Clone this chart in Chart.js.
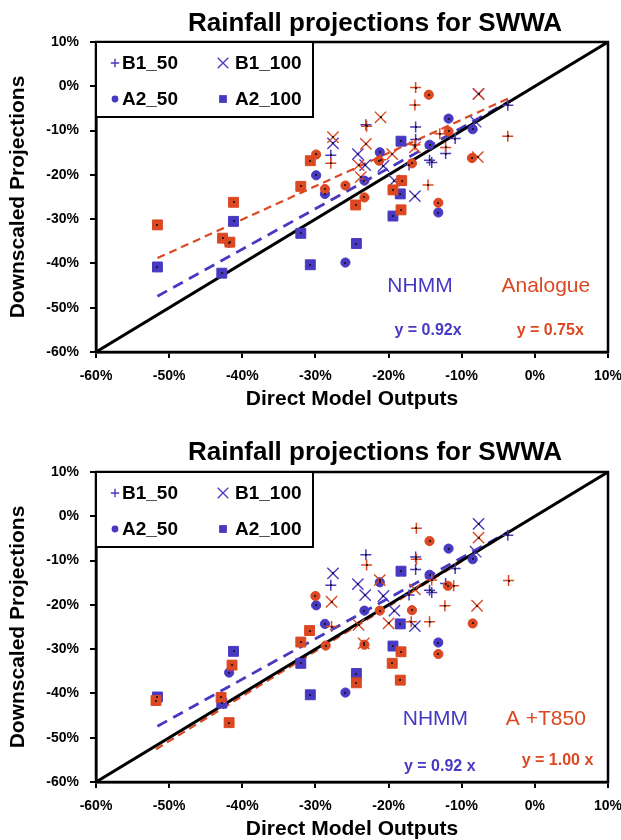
<!DOCTYPE html>
<html><head><meta charset="utf-8">
<script src="https://cdn.jsdelivr.net/npm/chart.js@4/dist/chart.umd.min.js"></script>
<style>
html,body{margin:0;padding:0;background:#fff;overflow:hidden;width:621px;height:840px}
.wrap{position:absolute;left:0;width:621px;height:430px}
canvas{display:block}
</style></head><body>
<div class="wrap" style="top:0"><canvas id="c1" width="621" height="430"></canvas></div>
<div class="wrap" style="top:430px"><canvas id="c2" width="621" height="430"></canvas></div>
<script>
// ---------- text / ticks ----------
const tickValues = [-60, -50, -40, -30, -20, -10, 0, 10];
const seriesLabels = ['B1_50', 'B1_100', 'A2_50', 'A2_100'];
const panelTitle = 'Rainfall projections for SWWA';
const xTitle = 'Direct Model Outputs';
const yTitle = 'Downscaled Projections';
const methodTop = ['NHMM', 'Analogue'];
const methodBottom = ['NHMM', 'A +T850'];
const eqTop = ['y = 0.92x', 'y = 0.75x'];
const eqBottom = ['y = 0.92 x', 'y = 1.00 x'];

// ---------- NHMM (same in both panels) [direct, downscaled] ----------
const nhmm_B1_50 = [[-27.9,-15.6],[-23.1,-8.7],[-16.3,-9.2],[-16.3,-12.0],[-14.4,-16.7],[-14.1,-17.2],[-12.2,-15.2],[-10.9,-11.8],[-3.7,-4.3],[-17.2,-17.8]];
const nhmm_B1_100 = [[-27.6,-12.9],[-24.2,-15.3],[-23.2,-17.8],[-20.7,-18.0],[-19.2,-21.3],[-16.4,-24.8],[-8.1,-8.0],[-7.7,-1.7]];
const nhmm_A2_50 = [[-29.9,-20.1],[-28.7,-24.3],[-25.9,-39.8],[-23.3,-21.3],[-21.2,-14.9],[-14.4,-13.2],[-13.2,-28.5],[-11.8,-7.3],[-8.5,-9.7],[-41.8,-35.3]];
const nhmm_A2_100 = [[-51.6,-40.8],[-42.8,-42.2],[-41.2,-30.5],[-32.0,-33.2],[-30.7,-40.3],[-24.4,-35.5],[-19.4,-29.3],[-18.4,-24.3],[-18.3,-12.4]];

// ---------- Analogue (top panel) ----------
const ana_B1_50 = [[-16.3,-0.3],[-16.4,-4.2],[-23.0,-9.0],[-27.9,-17.4],[-16.4,-13.2],[-14.6,-22.3],[-13.0,-10.7],[-12.2,-13.8],[-3.7,-11.3],[-21.1,-16.6]];
const ana_B1_100 = [[-27.6,-11.5],[-21.1,-7.0],[-23.1,-13.0],[-24.1,-17.8],[-23.8,-20.5],[-19.5,-15.3],[-16.4,-13.8],[-7.7,-1.7],[-7.8,-16.0]];
const ana_A2_50 = [[-14.5,-1.9],[-29.9,-15.4],[-25.9,-22.4],[-23.3,-25.1],[-28.7,-23.2],[-21.3,-16.8],[-16.8,-17.4],[-13.2,-26.3],[-11.8,-10.2],[-8.6,-16.2]];
const ana_A2_100 = [[-51.6,-31.3],[-41.2,-26.2],[-42.7,-34.3],[-41.7,-35.2],[-32.0,-22.6],[-30.7,-16.8],[-24.5,-26.8],[-19.4,-23.4],[-18.3,-27.9],[-18.2,-21.3]];

// ---------- A +T850 (bottom panel) ----------
const t850_B1_50 = [[-16.2,-2.7],[-23.0,-11.0],[-16.2,-9.7],[-11.1,-15.7],[-12.3,-20.2],[-14.4,-23.8],[-16.9,-23.8],[-3.6,-14.5],[-14.1,-14.4],[-27.8,-24.9]];
const t850_B1_100 = [[-27.8,-19.3],[-21.2,-14.4],[-7.9,-20.2],[-20.0,-24.2],[-24.1,-24.5],[-23.4,-28.7],[-7.7,-4.8],[-16.4,-16.5]];
const t850_A2_50 = [[-30.0,-18.0],[-28.6,-29.2],[-14.4,-5.6],[-11.9,-15.7],[-8.5,-24.2],[-16.8,-21.2],[-13.2,-31.1],[-23.3,-29.0],[-21.2,-21.3]];
const t850_A2_100 = [[-51.8,-41.6],[-42.9,-40.9],[-41.8,-46.6],[-41.4,-33.6],[-32.0,-28.4],[-30.8,-25.8],[-24.4,-37.6],[-19.5,-33.2],[-18.3,-30.6],[-18.4,-37.0]];

// ---------- lines ----------
const oneToOne = [[-60,-60],[10,10]];
const nhmmFit = [[-51.6,-47.4],[-3.7,-3.6]];
const anaFit = [[-51.6,-38.8],[-3.7,-2.8]];
const t850Fit = [[-51.8,-52.6],[-5.5,-5.6]];

// ---------- styles ----------
const BLUE = '#4739c2';
const RED = '#dc4822';
const FONT = '"Liberation Sans", Arial, sans-serif';
const markerStyles = [
  {style:'cross', r:5.5, bw:1.5},
  {style:'crossRot', r:8, bw:1.4},
  {style:'circle', r:4.6, bw:1},
  {style:'rect', r:7, bw:1}
];
const legendStyles = [
  {style:'cross', r:4.2, bw:1.4},
  {style:'crossRot', r:7.5, bw:1.3},
  {style:'circle', r:3.4, bw:1},
  {style:'rect', r:5.5, bw:1}
];

const pts = a => a.map(([x, y]) => ({x, y}));

function scatterSet(label, data, color, idx) {
  const m = markerStyles[idx];
  return {label, data: pts(data), showLine:false, pointStyle:m.style, pointRadius:m.r, pointHoverRadius:m.r,
    pointBorderWidth:m.bw, backgroundColor:color, borderColor:color, centerDot:true};
}
function lineSet(label, data, color, width, dash) {
  return {label, data: pts(data), showLine:true, pointRadius:0, pointHoverRadius:0, borderColor:color,
    backgroundColor:color, borderWidth:width, borderDash:dash, fill:false};
}

function drawMarker(ctx, style, x, y, r, bw, color) {
  ctx.save();
  ctx.fillStyle = color; ctx.strokeStyle = color; ctx.lineWidth = bw;
  ctx.beginPath();
  if (style === 'cross') { ctx.moveTo(x - r, y); ctx.lineTo(x + r, y); ctx.moveTo(x, y - r); ctx.lineTo(x, y + r); ctx.stroke(); }
  else if (style === 'crossRot') { const d = r * Math.SQRT1_2; ctx.moveTo(x - d, y - d); ctx.lineTo(x + d, y + d); ctx.moveTo(x - d, y + d); ctx.lineTo(x + d, y - d); ctx.stroke(); }
  else if (style === 'circle') { ctx.arc(x, y, r, 0, Math.PI * 2); ctx.fill(); }
  else { const s = r * Math.SQRT1_2; ctx.rect(x - s, y - s, 2 * s, 2 * s); ctx.fill(); }
  ctx.restore();
}

const decor = {
  id: 'decor',
  afterDatasetsDraw(chart) {
    const ctx = chart.ctx;
    chart.data.datasets.forEach((ds, i) => {
      if (!ds.centerDot) return;
      const meta = chart.getDatasetMeta(i);
      ctx.save();
      ctx.fillStyle = 'rgba(25,20,20,0.85)';
      meta.data.forEach(p => ctx.fillRect(Math.round(p.x) - 1, Math.round(p.y) - 1, 2, 2));
      ctx.restore();
    });
  },
  afterDraw(chart, args, o) {
    const {ctx, chartArea: a} = chart;
    const sx = chart.scales.x, sy = chart.scales.y;
    ctx.save();
    // plot frame
    ctx.strokeStyle = '#000'; ctx.lineWidth = 2.5;
    ctx.strokeRect(a.left, a.top, a.right - a.left, a.bottom - a.top);
    // title
    ctx.fillStyle = '#000';
    ctx.font = 'bold 26px ' + FONT;
    ctx.textAlign = 'center'; ctx.textBaseline = 'middle';
    ctx.fillText(o.title, o.titleX, o.titleY);
    // legend box
    const L = o.legend;
    ctx.fillStyle = '#fff';
    ctx.fillRect(L.x, L.y, L.w, L.h);
    ctx.lineWidth = 2; ctx.strokeStyle = '#000';
    ctx.strokeRect(L.x, L.y, L.w, L.h);
    ctx.font = 'bold 19px ' + FONT;
    ctx.textAlign = 'left'; ctx.textBaseline = 'middle';
    seriesLabels.forEach((lab, i) => {
      const col = (i === 1 || i === 3) ? 1 : 0;
      const row = (i >= 2) ? 1 : 0;
      const mx = L.markX[col], ty = L.rowY[row];
      const ls = legendStyles[i];
      drawMarker(ctx, ls.style, mx, ty, ls.r, ls.bw, BLUE);
      ctx.fillStyle = '#000';
      ctx.fillText(lab, L.textX[col], ty + 1);
    });
    // annotations
    o.notes.forEach(n => {
      ctx.font = n.font; ctx.fillStyle = n.color;
      ctx.textAlign = 'center'; ctx.textBaseline = 'middle';
      ctx.fillText(n.text, sx.getPixelForValue(n.x), sy.getPixelForValue(n.y));
    });
    ctx.restore();
  }
};

function makeChart(id, redSets, redFit, methods, eqs, titleY, eqPos) {
  const datasets = [
    ...redSets.map((d, i) => scatterSet(methods[1] + ' ' + seriesLabels[i], d, RED, i)),
    ...[nhmm_B1_50, nhmm_B1_100, nhmm_A2_50, nhmm_A2_100].map((d, i) => scatterSet('NHMM ' + seriesLabels[i], d, BLUE, i)),
    lineSet('1:1', oneToOne, '#000', 3, []),
    lineSet(methods[1] + ' fit', redFit, RED, 2.2, [8, 5]),
    lineSet('NHMM fit', nhmmFit, BLUE, 2.8, [11, 7])
  ];
  const tickFont = {family: FONT, size: 14, weight: 'bold'};
  const axisCommon = {
    type: 'linear', min: -60, max: 10,
    afterBuildTicks: s => { s.ticks = tickValues.map(v => ({value: v})); },
    grid: {drawOnChartArea: false, drawTicks: true, tickLength: 6, color: '#000', lineWidth: 2},
    border: {display: true, color: '#000', width: 2.5}
  };
  return new Chart(document.getElementById(id), {
    type: 'scatter',
    data: {datasets},
    options: {
      responsive: false, animation: false, devicePixelRatio: 1,
      layout: {padding: {left: 0, right: 13, top: 42, bottom: 18}},
      plugins: {
        legend: {display: false}, tooltip: {enabled: false},
        decor: {
          title: panelTitle, titleX: 375, titleY: titleY,
          legend: {x: 96, y: 42, w: 217, h: 75, markX: [115, 223], textX: [122, 235], rowY: [63, 99]},
          notes: [
            {text: methods[0], x: eqPos.m0[0], y: eqPos.m0[1], color: BLUE, font: '21px ' + FONT},
            {text: methods[1], x: eqPos.m1[0], y: eqPos.m1[1], color: RED, font: '21px ' + FONT},
            {text: eqs[0], x: eqPos.e0[0], y: eqPos.e0[1], color: BLUE, font: 'bold 16px ' + FONT},
            {text: eqs[1], x: eqPos.e1[0], y: eqPos.e1[1], color: RED, font: 'bold 16px ' + FONT}
          ]
        }
      },
      scales: {
        x: Object.assign({}, axisCommon, {
          position: 'bottom',
          ticks: {callback: v => v + '%', font: tickFont, color: '#000', padding: 10, autoSkip: false, maxRotation: 0, minRotation: 0},
          title: {display: true, text: xTitle, color: '#000', font: {family: FONT, size: 21, weight: 'bold'}, padding: {top: 0, bottom: 0}},
          afterFit: s => { s.height = 60; s.paddingLeft = 0; s.paddingRight = 0; }
        }),
        y: Object.assign({}, axisCommon, {
          position: 'left',
          ticks: {callback: v => v + '%', font: tickFont, color: '#000', padding: 11, autoSkip: false},
          title: {display: true, text: yTitle, color: '#000', font: {family: FONT, size: 21, weight: 'bold'}, padding: {top: 6, bottom: 0}},
          afterFit: s => { s.width = 96; s.paddingTop = 0; s.paddingBottom = 0; }
        })
      }
    },
    plugins: [decor]
  });
}

makeChart('c1', [ana_B1_50, ana_B1_100, ana_A2_50, ana_A2_100], anaFit, methodTop, eqTop, 24,
  {m0: [-15.7, -45.1], m1: [1.5, -45.1], e0: [-14.6, -55.2], e1: [2.1, -55.2]});
makeChart('c2', [t850_B1_50, t850_B1_100, t850_A2_50, t850_A2_100], t850Fit, methodBottom, eqBottom, 23,
  {m0: [-13.6, -45.8], m1: [1.5, -45.8], e0: [-13.0, -56.6], e1: [3.1, -55.1]});
</script>
</body></html>
